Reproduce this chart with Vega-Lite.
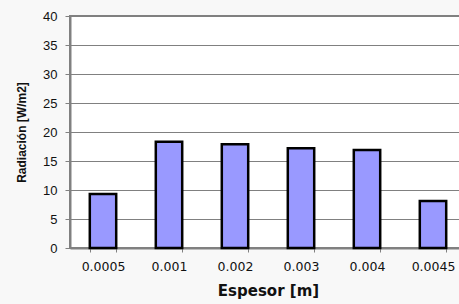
{
  "$schema": "https://vega.github.io/schema/vega-lite/v6.json",
  "autosize": {"type": "none"},
  "padding": {"left": 70, "top": 16, "right": 0, "bottom": 56},
  "width": 396,
  "height": 232,
  "background": "#f8f8f8",
  "config": {
    "view": {"fill": "#ffffff", "stroke": "#808080", "strokeWidth": 2},
    "axis": {"labelFont": "Liberation Sans", "titleFont": "Liberation Sans", "labelColor": "#111111", "titleColor": "#111111"}
  },
  "data": {
    "values": [
      {"espesor": "0.0005", "radiacion": 9.3},
      {"espesor": "0.001", "radiacion": 18.3},
      {"espesor": "0.002", "radiacion": 17.9},
      {"espesor": "0.003", "radiacion": 17.2},
      {"espesor": "0.004", "radiacion": 16.9},
      {"espesor": "0.0045", "radiacion": 8.1}
    ]
  },
  "mark": {"type": "bar", "fill": "#9999ff", "stroke": "#000000", "strokeWidth": 2.5},
  "encoding": {
    "x": {
      "field": "espesor", "type": "ordinal", "sort": null,
      "scale": {"paddingInner": 0.6, "paddingOuter": 0.3},
      "axis": {
        "title": "Espesor [m]", "titleFont": "DejaVu Sans", "titleFontSize": 15, "titleFontWeight": "bold", "titlePadding": 11,
        "labelAngle": 0, "labelFontSize": 12.5, "labelFont": "DejaVu Sans", "labelPadding": 8,
        "domainColor": "#808080", "domainWidth": 2,
        "tickBand": "extent", "tickColor": "#808080", "tickSize": 4, "ticks": true,
        "grid": false
      }
    },
    "y": {
      "field": "radiacion", "type": "quantitative",
      "scale": {"domain": [0, 40]},
      "axis": {
        "title": "Radiación [W/m2]", "titleFontSize": 12, "titleFontWeight": "bold", "titlePadding": 14,
        "values": [0, 5, 10, 15, 20, 25, 30, 35, 40],
        "labelFontSize": 13, "labelPadding": 8,
        "domainColor": "#808080", "domainWidth": 2,
        "tickColor": "#808080", "tickSize": 5,
        "grid": true, "gridColor": "#808080", "gridWidth": 1
      }
    }
  }
}
